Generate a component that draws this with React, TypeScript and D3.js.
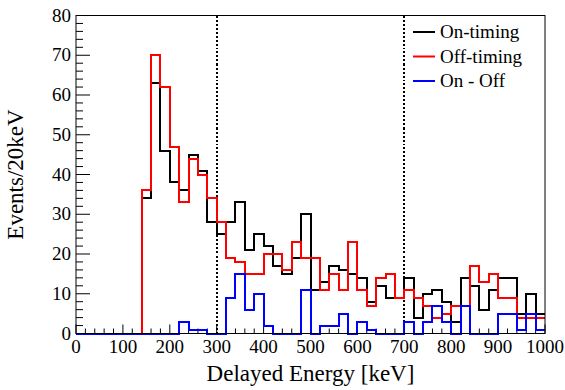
import React from "react";
import * as d3 from "d3";

// 20 keV bins from 0 to 1000 keV
const binEdges: number[] = d3.range(0, 1001, 20);

const onTiming: number[] = [
  0, 0, 0, 0, 0, 0, 0,
  34, 63, 46, 38, 36, 45, 41, 28,
  25, 28, 33, 21, 25, 22, 17, 15, 19, 30,
  11, 13, 17, 16, 15, 14, 8, 12, 9, 9, 14, 4,
  10, 11, 8, 3, 14, 12, 6, 11, 14, 14, 5, 10, 5,
];

const offTiming: number[] = [
  0, 0, 0, 0, 0, 0, 0,
  36, 70, 62, 47, 33, 44, 40, 34,
  28, 19, 18, 15, 15, 20, 20, 16, 23, 19,
  19, 11, 15, 11, 23, 11, 7, 14, 15, 9, 11, 9,
  7, 4, 5, 7, 7, 17, 13, 15, 9, 9, 4, 4, 4,
];

const onMinusOff: number[] = [
  0, 0, 0, 0, 0, 0, 0,
  0, 0, 0, 0, 3, 1, 1, 0,
  0, 9, 15, 6, 10, 2, 0, 0, 0, 11,
  0, 2, 2, 5, 0, 3, 1, 0, 0, 0, 3, 0,
  3, 7, 3, 0, 7, 0, 0, 0, 5, 5, 1, 5, 1,
];

const seriesNames: string[] = ["On-timing", "Off-timing", "On - Off"];
const seriesColors: string[] = ["#000000", "#ff0000", "#0000ff"];

const xTicks: number[] = [0, 100, 200, 300, 400, 500, 600, 700, 800, 900, 1000];
const yTicks: number[] = [0, 10, 20, 30, 40, 50, 60, 70, 80];
const cutLines: number[] = [300, 700];

const W = 565;
const H = 390;
const left = 76;
const right = 545;
const top = 15.5;
const bottom = 333.5;
const SERIF = "Liberation Serif";

const x = d3.scaleLinear().domain([0, 1000]).range([left, right]);
const y = d3.scaleLinear().domain([0, 80]).range([bottom, top]);

const stepLine = d3
  .line<[number, number]>()
  .x((d) => x(d[0]))
  .y((d) => y(d[1]))
  .curve(d3.curveStepAfter);

function histPath(values: number[]): string {
  const pts: [number, number][] = values.map((v, i) => [binEdges[i], v]);
  pts.push([binEdges[values.length], values[values.length - 1]]);
  return stepLine(pts) || "";
}

export default function App() {
  const xMinor = d3.range(0, 1001, 20).filter((v) => v % 100 !== 0);
  const yMinor = d3.range(0, 81, 2).filter((v) => v % 10 !== 0);
  const series = [onTiming, offTiming, onMinusOff];

  return (
    <svg width={W} height={H} style={{ position: "fixed", left: 0, top: 0 }}>
      <style>{`text { font-family: "Liberation Serif", serif; }`}</style>
      <rect x={0} y={0} width={W} height={H} fill="#fff" />

      {/* x ticks (inside the frame) */}
      {xTicks.map((t) => (
        <line key={"xM" + t} x1={x(t)} x2={x(t)} y1={bottom} y2={bottom - 9} stroke="#000" strokeWidth={1} />
      ))}
      {xMinor.map((t) => (
        <line key={"xm" + t} x1={x(t)} x2={x(t)} y1={bottom} y2={bottom - 5} stroke="#000" strokeWidth={1} />
      ))}
      {/* y ticks */}
      {yTicks.map((t) => (
        <line key={"yM" + t} x1={left} x2={left + 14} y1={y(t)} y2={y(t)} stroke="#000" strokeWidth={1} />
      ))}
      {yMinor.map((t) => (
        <line key={"ym" + t} x1={left} x2={left + 7} y1={y(t)} y2={y(t)} stroke="#000" strokeWidth={1} />
      ))}

      {/* cut lines */}
      {cutLines.map((c) => (
        <line
          key={"cut" + c}
          x1={x(c)}
          x2={x(c)}
          y1={top}
          y2={bottom}
          stroke="#000"
          strokeWidth={2}
          strokeDasharray="2,2"
          shapeRendering="crispEdges"
        />
      ))}

      {/* histograms */}
      {series.map((vals, i) => (
        <path
          key={seriesNames[i]}
          d={histPath(vals)}
          fill="none"
          stroke={seriesColors[i]}
          strokeWidth={2}
          shapeRendering="crispEdges"
        />
      ))}

      {/* frame */}
      <rect
        x={left}
        y={top}
        width={right - left}
        height={bottom - top}
        fill="none"
        stroke="#000"
        strokeWidth={1}
      />

      {/* tick labels */}
      {xTicks.map((t) => (
        <text key={"xl" + t} x={x(t)} y={353} fontSize={19} fontFamily={SERIF} textAnchor="middle">
          {t}
        </text>
      ))}
      {yTicks.map((t) => (
        <text key={"yl" + t} x={71} y={y(t) + 6} fontSize={19} fontFamily={SERIF} textAnchor="end">
          {t}
        </text>
      ))}

      {/* axis titles */}
      <text x={(left + right) / 2} y={381} fontSize={23} fontFamily={SERIF} textAnchor="middle">
        Delayed Energy [keV]
      </text>
      <text
        transform={`translate(23, ${(top + bottom) / 2}) rotate(-90)`}
        fontSize={23}
        fontFamily={SERIF}
        textAnchor="middle"
      >
        Events/20keV
      </text>

      {/* legend */}
      {seriesNames.map((name, i) => {
        const cy = 32 + i * 24.5;
        return (
          <g key={"lg" + name}>
            <line x1={413} x2={435} y1={cy} y2={cy} stroke={seriesColors[i]} strokeWidth={2} />
            <text x={440} y={cy + 6} fontSize={19} fontFamily={SERIF}>
              {name}
            </text>
          </g>
        );
      })}
    </svg>
  );
}
